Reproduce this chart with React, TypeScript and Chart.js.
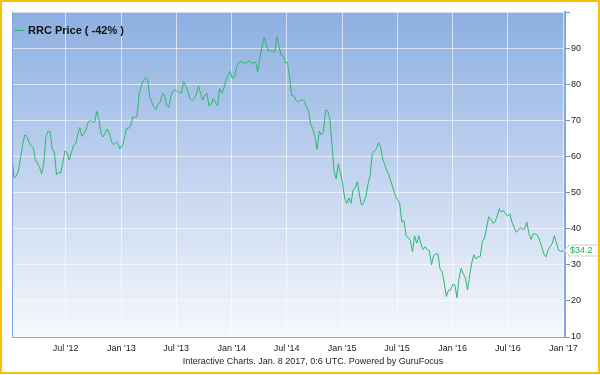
import React, { useEffect, useRef } from "react";
import { Chart, registerables } from "chart.js";

Chart.register(...registerables);

// ---------- data ----------
const START_DATE = "2012-01-06";
const STEP_DAYS = 7;

const rrcPrice = [
  59.5, 54, 54.5, 56, 59.5, 63, 66, 65.5, 64, 63,
  62.5, 59, 58.2, 57, 55.2, 58, 65.4, 67, 66.8, 62.1,
  61.2, 55, 55.5, 55.4, 58.3, 61.5, 61, 59, 61, 63,
  63.5, 66, 68, 65.6, 66.3, 67.5, 69.5, 70, 69.5, 69.5,
  72.5, 70.5, 66.5, 65.4, 66.5, 67.6, 66.3, 64, 63.2, 64,
  63.5, 62.1, 63, 64.8, 67.7, 67.8, 68.6, 71, 70.8, 71,
  77.3, 79.5, 81, 81.8, 81.5, 76.5, 75, 73.5, 73, 74.6,
  75, 77.5, 77, 74.2, 73.5, 76.8, 78, 78.5, 78, 77.8,
  77.5, 80.7, 79.5, 78, 76, 75.5, 75.9, 77.4, 79.5, 77.5,
  75.6, 77, 77.5, 74, 74.5, 76, 75, 74, 78.8, 77.5,
  79, 81.2, 82.6, 83.6, 81.6, 82, 85, 86, 86.2, 86.1,
  85.8, 86, 86.5, 85.8, 86, 86, 83.4, 87.3, 90.5, 93,
  91, 89.3, 89.3, 89, 89, 93.2, 90.5, 88, 87.8, 86,
  86, 82, 76.8, 76.8, 75.6, 75, 75.5, 75.6, 75.3, 73.8,
  72.5, 69, 67.4, 65.5, 62, 67, 66, 67, 72.8, 72.7,
  70.5, 63.5, 56, 53.8, 58, 55.5, 52.6, 48.5, 47, 48.5,
  47, 50.8, 51.3, 53, 49.3, 46.5, 47.2, 48.8, 52.3, 54.6,
  60.8, 61.5, 62.2, 63.8, 62.5, 59.2, 57.6, 55.9, 54.7, 52.8,
  50.8, 49, 48, 46.8, 41.8, 42.3, 38, 37.5, 36.8, 33.6,
  38, 36, 38, 35.8, 34.2, 35, 34.2, 34, 30, 32.6,
  33, 33, 28.9, 28, 25, 21.2, 23, 23, 24.6, 24.4,
  20.9, 26.3, 29, 27.5, 26.3, 23.1, 27, 30.6, 32.8, 31.6,
  32.2, 32.3, 36.4, 37.4, 40.2, 43.3, 42.7, 41.5, 41.9, 43.5,
  45.5, 44.6, 45, 44, 43.5, 44.1, 41.7, 40.4, 39, 39.6,
  40.3, 39.8, 40, 41.8, 38.6, 37, 38.5, 38.6, 38.2, 36.8,
  35, 33, 32.2, 34.1, 35, 36, 38, 36, 34, 33.7,
  33.8, 34.2,
];

const xTickDates = [
  "2012-07-01", "2013-01-01", "2013-07-01", "2014-01-01", "2014-07-01",
  "2015-01-01", "2015-07-01", "2016-01-01", "2016-07-01", "2017-01-01",
];
const xTickLabels = [
  "Jul '12", "Jan '13", "Jul '13", "Jan '14", "Jul '14",
  "Jan '15", "Jul '15", "Jan '16", "Jul '16", "Jan '17",
];
const yMin = 10;
const yMax = 100;
const yStep = 10;

const seriesLabel = "RRC Price ( -42% )";
const lastPriceLabel = "$34.2";
const footerText = "Interactive Charts. Jan. 8 2017, 0:6 UTC. Powered by GuruFocus";

// ---------- helpers ----------
const FONT = '"Liberation Sans", Arial, Helvetica, sans-serif';
const LINE_COLOR = "#2DB86D";
const AXIS_BLUE = "#84A8DC";

const dayNum = (s: string) => Date.parse(s + "T00:00:00Z") / 864e5;
const startDay = dayNum(START_DATE);
const points = rrcPrice.map((v, i) => ({ x: startDay + i * STEP_DAYS, y: v }));
const xTickDays = xTickDates.map(dayNum);

const decorPlugin = {
  id: "decor",
  beforeDraw(chart: any) {
    const { ctx, chartArea: a, width, height } = chart;
    ctx.save();
    ctx.fillStyle = "#ffffff";
    ctx.fillRect(0, 0, width, height);
    const g = ctx.createLinearGradient(0, a.top, 0, a.bottom);
    g.addColorStop(0, "#8CAFE1");
    g.addColorStop(0.5, "#C2D4EF");
    g.addColorStop(1, "#F6F8FD");
    ctx.fillStyle = g;
    ctx.fillRect(a.left, a.top, a.right - a.left, a.bottom - a.top);
    ctx.restore();
  },
  afterDraw(chart: any) {
    const { ctx, chartArea: a, width, height } = chart;
    ctx.save();
    // left edge of plot
    ctx.strokeStyle = AXIS_BLUE;
    ctx.lineWidth = 1;
    ctx.beginPath();
    ctx.moveTo(a.left + 0.5, a.top);
    ctx.lineTo(a.left + 0.5, a.bottom);
    ctx.stroke();

    // legend
    ctx.strokeStyle = LINE_COLOR;
    ctx.lineWidth = 1;
    ctx.beginPath();
    ctx.moveTo(14, 30.5);
    ctx.lineTo(24, 30.5);
    ctx.stroke();
    ctx.fillStyle = "#111";
    ctx.font = "bold 11px " + FONT;
    ctx.textBaseline = "middle";
    ctx.textAlign = "left";
    ctx.fillText(seriesLabel, 28, 31);

    // last price label
    const last = rrcPrice[rrcPrice.length - 1];
    const y = Math.round(chart.scales.y.getPixelForValue(last)) + 0.5;
    ctx.fillStyle = "#ffffff";
    ctx.strokeStyle = "#cccccc";
    ctx.beginPath();
    ctx.moveTo(564, y);
    ctx.lineTo(568.5, y - 4);
    ctx.lineTo(568.5, y - 5.5);
    ctx.lineTo(605, y - 5.5);
    ctx.lineTo(605, y + 5.5);
    ctx.lineTo(568.5, y + 5.5);
    ctx.lineTo(568.5, y + 4);
    ctx.closePath();
    ctx.fill();
    ctx.stroke();
    ctx.fillStyle = "#1FAF5C";
    ctx.font = "9px " + FONT;
    ctx.fillText(lastPriceLabel, 570, y + 0.5);

    // footer
    ctx.fillStyle = "#222";
    ctx.font = "9px " + FONT;
    ctx.textAlign = "center";
    ctx.fillText(footerText, 313, 362);

    // outer frame
    ctx.strokeStyle = "#F8C000";
    ctx.lineWidth = 2;
    ctx.strokeRect(1, 1, width - 2, height - 3);
    ctx.restore();
  },
};

export default function App() {
  const ref = useRef<HTMLCanvasElement | null>(null);

  useEffect(() => {
    if (!ref.current) return;
    const chart = new Chart(ref.current, {
      type: "line",
      data: {
        datasets: [
          {
            label: seriesLabel,
            data: points,
            borderColor: LINE_COLOR,
            borderWidth: 1,
            pointRadius: 0,
            tension: 0,
            fill: false,
          },
        ],
      },
      options: {
        animation: false,
        responsive: true,
        maintainAspectRatio: false,
        layout: { padding: { left: 12, top: 12, right: 0, bottom: 20 } },
        plugins: {
          legend: { display: false },
          tooltip: { enabled: false },
          title: { display: false },
        },
        scales: {
          x: {
            type: "linear",
            min: startDay,
            max: startDay + (rrcPrice.length - 1) * STEP_DAYS,
            afterBuildTicks: (axis: any) => {
              axis.ticks = xTickDays.map((v) => ({ value: v }));
            },
            afterFit: (scale: any) => {
              scale.height = 18;
            },
            ticks: {
              autoSkip: false,
              maxRotation: 0,
              minRotation: 0,
              padding: 6,
              color: "#222",
              font: { family: FONT, size: 9 },
              callback: (value: any) => {
                const i = xTickDays.indexOf(value);
                return i >= 0 ? xTickLabels[i] : "";
              },
            },
            grid: {
              color: "rgba(255,255,255,0.6)",
              lineWidth: 1,
              drawTicks: false,
            },
            border: { display: true, color: AXIS_BLUE, width: 1 },
          },
          y: {
            position: "right",
            min: yMin,
            max: yMax,
            afterFit: (scale: any) => {
              scale.width = 35;
            },
            ticks: {
              stepSize: yStep,
              padding: 1,
              color: "#222",
              font: { family: FONT, size: 9 },
              callback: (v: any) => (v === yMax ? "" : String(v)),
            },
            grid: {
              color: "rgba(255,255,255,0.6)",
              lineWidth: 1,
              drawTicks: true,
              tickLength: 5,
              tickColor: "#7f8fa8",
            },
            border: { display: true, color: AXIS_BLUE, width: 2 },
          },
        },
      },
      plugins: [decorPlugin],
    } as any);
    return () => chart.destroy();
  }, []);

  return (
    <div style={{ position: "absolute", left: 0, top: 0, width: 600, height: 375 }}>
      <canvas ref={ref} />
    </div>
  );
}
